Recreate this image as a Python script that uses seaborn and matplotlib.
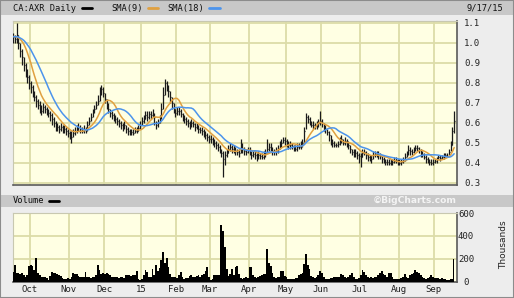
import numpy as np
import pandas as pd
import matplotlib
matplotlib.use("Agg")
import matplotlib.pyplot as plt
import seaborn as sns
from matplotlib.lines import Line2D
from matplotlib.patches import Rectangle

# ---------------- data ----------------
title = "CA:AXR Daily"
date_label = "9/17/15"
month_labels = ["Oct", "Nov", "Dec", "15", "Feb", "Mar", "Apr", "May", "Jun", "Jul", "Aug", "Sep"]
price_ticks = [0.3, 0.4, 0.5, 0.6, 0.7, 0.8, 0.9, 1.0, 1.1]
volume_ticks = [0, 200, 400, 600]

# closes before the visible window (only feed the moving averages)
close_prior = [1.02, 1.04, 1.03, 1.05, 1.02, 1.01, 1.03, 1.04, 1.02,
               1.03, 1.05, 1.04, 1.02, 1.03, 1.01, 1.03, 1.04]

close_sep14 = [1.03, 1.02, 1.04, 1.00, 0.96, 0.93, 0.89, 0.86, 0.83, 0.80]
high_sep14 = [1.05, 1.04, 1.10, 1.04, 1.00, 0.97, 0.93, 0.90, 0.87, 0.84]
low_sep14 = [1.00, 1.00, 1.00, 0.97, 0.93, 0.89, 0.86, 0.83, 0.80, 0.77]
vol_sep14 = [85, 145, 80, 75, 70, 75, 60, 45, 60, 140]

close_oct = [0.78, 0.75, 0.73, 0.71, 0.69, 0.68, 0.66, 0.68, 0.67, 0.66, 0.65, 0.64, 0.62, 0.60, 0.59, 0.58, 0.57, 0.58, 0.56, 0.57, 0.56, 0.55]
high_oct = [0.81, 0.79, 0.76, 0.74, 0.72, 0.71, 0.69, 0.70, 0.69, 0.68, 0.67, 0.66, 0.65, 0.63, 0.61, 0.60, 0.59, 0.60, 0.59, 0.59, 0.58, 0.57]
low_oct = [0.75, 0.73, 0.71, 0.68, 0.67, 0.65, 0.64, 0.65, 0.65, 0.64, 0.63, 0.61, 0.59, 0.58, 0.56, 0.56, 0.55, 0.56, 0.55, 0.55, 0.54, 0.53]
vol_oct = [145, 140, 100, 205, 80, 60, 45, 45, 40, 30, 15, 50, 85, 80, 75, 70, 60, 50, 30, 25, 25, 30]

close_nov = [0.54, 0.53, 0.55, 0.56, 0.57, 0.58, 0.57, 0.56, 0.57, 0.56, 0.59, 0.61, 0.63, 0.65, 0.67, 0.69, 0.71, 0.74, 0.77, 0.75]
high_nov = [0.56, 0.56, 0.57, 0.58, 0.59, 0.60, 0.59, 0.58, 0.59, 0.58, 0.61, 0.63, 0.65, 0.67, 0.69, 0.71, 0.74, 0.78, 0.79, 0.78]
low_nov = [0.52, 0.50, 0.53, 0.54, 0.55, 0.56, 0.55, 0.55, 0.55, 0.55, 0.56, 0.59, 0.61, 0.63, 0.65, 0.67, 0.69, 0.71, 0.74, 0.73]
vol_nov = [20, 45, 75, 70, 65, 50, 40, 45, 40, 85, 45, 40, 35, 40, 45, 60, 145, 100, 70, 75]

close_dec = [0.72, 0.69, 0.67, 0.65, 0.64, 0.63, 0.62, 0.61, 0.60, 0.59, 0.58, 0.59, 0.57, 0.56, 0.55, 0.555, 0.55, 0.56, 0.56, 0.575, 0.59]
high_dec = [0.75, 0.72, 0.70, 0.67, 0.66, 0.65, 0.64, 0.63, 0.62, 0.61, 0.60, 0.61, 0.59, 0.58, 0.57, 0.57, 0.57, 0.58, 0.58, 0.59, 0.61]
low_dec = [0.70, 0.67, 0.65, 0.63, 0.62, 0.61, 0.60, 0.59, 0.58, 0.57, 0.56, 0.57, 0.55, 0.54, 0.54, 0.54, 0.54, 0.55, 0.55, 0.56, 0.57]
vol_dec = [70, 75, 65, 55, 45, 40, 45, 40, 35, 40, 45, 30, 55, 60, 55, 50, 60, 55, 95, 20, 15]

close_jan = [0.61, 0.62, 0.64, 0.63, 0.645, 0.64, 0.65, 0.63, 0.59, 0.60, 0.62, 0.67, 0.74, 0.80, 0.78, 0.76, 0.73, 0.70, 0.67, 0.65]
high_jan = [0.63, 0.64, 0.66, 0.66, 0.66, 0.66, 0.67, 0.65, 0.61, 0.62, 0.64, 0.70, 0.78, 0.82, 0.81, 0.79, 0.76, 0.73, 0.70, 0.67]
low_jan = [0.59, 0.60, 0.62, 0.61, 0.62, 0.62, 0.63, 0.59, 0.57, 0.58, 0.60, 0.62, 0.67, 0.74, 0.76, 0.73, 0.70, 0.67, 0.65, 0.63]
vol_jan = [20, 60, 100, 85, 40, 45, 115, 60, 145, 90, 120, 190, 260, 160, 205, 130, 70, 45, 40, 45]

close_feb = [0.66, 0.66, 0.645, 0.63, 0.62, 0.61, 0.60, 0.59, 0.60, 0.595, 0.58, 0.585, 0.57, 0.565, 0.56, 0.55, 0.54, 0.53, 0.52]
high_feb = [0.68, 0.68, 0.67, 0.65, 0.64, 0.63, 0.62, 0.61, 0.62, 0.61, 0.60, 0.60, 0.59, 0.58, 0.58, 0.57, 0.56, 0.55, 0.54]
low_feb = [0.64, 0.64, 0.63, 0.61, 0.60, 0.59, 0.58, 0.57, 0.58, 0.58, 0.56, 0.57, 0.55, 0.55, 0.54, 0.53, 0.52, 0.51, 0.50]
vol_feb = [35, 60, 85, 40, 25, 30, 35, 50, 55, 40, 45, 50, 55, 45, 60, 70, 95, 130, 40]

close_mar = [0.52, 0.51, 0.50, 0.49, 0.48, 0.47, 0.45, 0.42, 0.44, 0.45, 0.47, 0.48, 0.47, 0.47, 0.46, 0.455, 0.45, 0.49, 0.47, 0.46, 0.455, 0.465]
high_mar = [0.54, 0.53, 0.52, 0.51, 0.50, 0.49, 0.47, 0.46, 0.46, 0.47, 0.49, 0.50, 0.49, 0.49, 0.48, 0.47, 0.47, 0.52, 0.50, 0.48, 0.47, 0.48]
low_mar = [0.50, 0.49, 0.48, 0.47, 0.46, 0.45, 0.43, 0.33, 0.39, 0.43, 0.45, 0.46, 0.45, 0.45, 0.44, 0.44, 0.43, 0.45, 0.45, 0.44, 0.44, 0.45]
vol_mar = [15, 25, 55, 60, 55, 60, 495, 440, 300, 115, 50, 70, 110, 60, 125, 140, 70, 30, 20, 30, 40, 35]

close_apr = [0.46, 0.44, 0.445, 0.44, 0.43, 0.44, 0.435, 0.43, 0.44, 0.45, 0.47, 0.48, 0.475, 0.46, 0.455, 0.46, 0.47, 0.49, 0.50, 0.515, 0.51]
high_apr = [0.48, 0.46, 0.46, 0.46, 0.45, 0.46, 0.45, 0.45, 0.46, 0.47, 0.52, 0.50, 0.50, 0.48, 0.47, 0.48, 0.49, 0.51, 0.52, 0.53, 0.53]
low_apr = [0.44, 0.42, 0.43, 0.42, 0.41, 0.42, 0.42, 0.42, 0.42, 0.43, 0.45, 0.46, 0.46, 0.44, 0.44, 0.44, 0.45, 0.47, 0.48, 0.50, 0.49]
vol_apr = [130, 125, 60, 40, 30, 45, 50, 55, 65, 70, 285, 165, 140, 80, 45, 35, 40, 45, 95, 90, 50]

close_may = [0.50, 0.49, 0.49, 0.485, 0.475, 0.47, 0.48, 0.48, 0.49, 0.50, 0.56, 0.63, 0.62, 0.605, 0.59, 0.59, 0.585, 0.59, 0.60, 0.61]
high_may = [0.52, 0.51, 0.51, 0.50, 0.49, 0.49, 0.50, 0.50, 0.51, 0.52, 0.58, 0.65, 0.64, 0.63, 0.61, 0.61, 0.60, 0.61, 0.62, 0.66]
low_may = [0.48, 0.47, 0.47, 0.47, 0.46, 0.46, 0.46, 0.47, 0.47, 0.48, 0.50, 0.57, 0.60, 0.59, 0.58, 0.57, 0.57, 0.57, 0.58, 0.59]
vol_may = [40, 25, 20, 20, 25, 30, 35, 60, 65, 75, 155, 240, 150, 110, 50, 40, 35, 45, 55, 95]

close_jun = [0.60, 0.58, 0.57, 0.555, 0.54, 0.51, 0.50, 0.49, 0.49, 0.495, 0.51, 0.52, 0.50, 0.51, 0.50, 0.49, 0.47, 0.455, 0.45, 0.45, 0.44, 0.435]
high_jun = [0.62, 0.60, 0.59, 0.57, 0.56, 0.54, 0.52, 0.51, 0.50, 0.51, 0.53, 0.54, 0.52, 0.53, 0.52, 0.51, 0.49, 0.47, 0.47, 0.47, 0.46, 0.45]
low_jun = [0.58, 0.56, 0.55, 0.54, 0.51, 0.49, 0.48, 0.48, 0.48, 0.48, 0.49, 0.50, 0.49, 0.49, 0.48, 0.47, 0.45, 0.44, 0.43, 0.43, 0.42, 0.40]
vol_jun = [80, 40, 20, 20, 25, 30, 35, 40, 45, 40, 45, 65, 60, 40, 35, 45, 60, 80, 40, 25, 20, 30]

close_jul = [0.43, 0.45, 0.455, 0.44, 0.43, 0.42, 0.42, 0.44, 0.445, 0.445, 0.44, 0.435, 0.42, 0.41, 0.405, 0.405, 0.40, 0.405, 0.405, 0.41, 0.415, 0.40]
high_jul = [0.45, 0.47, 0.47, 0.46, 0.45, 0.44, 0.44, 0.46, 0.46, 0.46, 0.46, 0.45, 0.44, 0.43, 0.42, 0.42, 0.42, 0.42, 0.42, 0.43, 0.43, 0.42]
low_jul = [0.38, 0.43, 0.44, 0.42, 0.41, 0.41, 0.40, 0.42, 0.43, 0.43, 0.42, 0.42, 0.40, 0.40, 0.39, 0.39, 0.39, 0.39, 0.39, 0.40, 0.40, 0.39]
vol_jul = [60, 100, 85, 60, 40, 35, 40, 35, 40, 45, 60, 80, 95, 70, 55, 40, 80, 75, 40, 25, 20, 25]

close_aug = [0.40, 0.405, 0.41, 0.43, 0.445, 0.465, 0.46, 0.455, 0.465, 0.475, 0.475, 0.465, 0.45, 0.445, 0.43, 0.42, 0.41, 0.405, 0.40, 0.405]
high_aug = [0.42, 0.42, 0.43, 0.45, 0.46, 0.49, 0.48, 0.47, 0.48, 0.49, 0.49, 0.48, 0.47, 0.46, 0.45, 0.44, 0.43, 0.42, 0.42, 0.42]
low_aug = [0.39, 0.39, 0.40, 0.41, 0.43, 0.44, 0.44, 0.44, 0.45, 0.46, 0.46, 0.45, 0.43, 0.43, 0.42, 0.40, 0.40, 0.39, 0.39, 0.39]
vol_aug = [25, 30, 45, 65, 40, 35, 55, 70, 80, 100, 85, 75, 60, 40, 35, 25, 30, 40, 55, 45]

close_sep15 = [0.41, 0.415, 0.43, 0.425, 0.43, 0.435, 0.44, 0.435, 0.455, 0.49, 0.56, 0.61]
high_sep15 = [0.42, 0.43, 0.44, 0.44, 0.44, 0.45, 0.45, 0.45, 0.47, 0.51, 0.58, 0.66]
low_sep15 = [0.40, 0.40, 0.42, 0.41, 0.42, 0.42, 0.43, 0.43, 0.44, 0.46, 0.49, 0.55]
vol_sep15 = [35, 30, 35, 25, 30, 25, 20, 15, 15, 20, 25, 195]

# ---------------- assemble ----------------
closes_by_month = [close_sep14, close_oct, close_nov, close_dec, close_jan, close_feb, close_mar,
                   close_apr, close_may, close_jun, close_jul, close_aug, close_sep15]
highs_by_month = [high_sep14, high_oct, high_nov, high_dec, high_jan, high_feb, high_mar,
                  high_apr, high_may, high_jun, high_jul, high_aug, high_sep15]
lows_by_month = [low_sep14, low_oct, low_nov, low_dec, low_jan, low_feb, low_mar,
                 low_apr, low_may, low_jun, low_jul, low_aug, low_sep15]
vols_by_month = [vol_sep14, vol_oct, vol_nov, vol_dec, vol_jan, vol_feb, vol_mar,
                 vol_apr, vol_may, vol_jun, vol_jul, vol_aug, vol_sep15]

close = np.concatenate(closes_by_month)
high = np.concatenate(highs_by_month)
low = np.concatenate(lows_by_month)
vol = np.concatenate(vols_by_month)
idx = np.arange(len(close))
lengths = [len(m) for m in closes_by_month]
month_starts = np.cumsum(lengths)[:-1]  # first trading day of Oct ... Sep

n_prior = len(close_prior)
all_close = pd.Series(np.concatenate([close_prior, close]))
sma9 = all_close.rolling(9, min_periods=1).mean().to_numpy()[n_prior:]
sma18 = all_close.rolling(18, min_periods=1).mean().to_numpy()[n_prior:]

df = pd.DataFrame({"day": idx, "close": close, "high": high, "low": low, "vol": vol,
                   "sma9": sma9, "sma18": sma18})

# ---------------- style ----------------
sns.set_style("white")
plt.rcParams["font.family"] = ["DejaVu Sans Mono", "DejaVu Sans"]

W, H = 514, 298
fig = plt.figure(figsize=(W / 100, H / 100), dpi=100, facecolor="#EDEDED")

def fx(px):
    return px / W

def fy(py):
    return 1 - py / H

PLOT_BG = "#FFFFE3"
GRID = "#DCDCA8"
ORANGE = "#E0A040"
BLUE = "#4C94EC"

# header bands
fig.patches.append(Rectangle((0, fy(15)), 1, 15 / H, transform=fig.transFigure,
                             facecolor="#C8C8C8", edgecolor="none", zorder=0))
fig.patches.append(Rectangle((0, fy(207)), 1, 12 / H, transform=fig.transFigure,
                             facecolor="#C8C8C8", edgecolor="none", zorder=0))
fig.patches.append(Rectangle((0, 0), 1, 1, transform=fig.transFigure,
                             facecolor="none", edgecolor="#8C8C8C", lw=1.5, zorder=5))

x_left, x_right = 13, 457
xmin, xmax = -0.1, 251.6

ax = fig.add_axes([fx(x_left), fy(185), fx(x_right - x_left), (185 - 20.7) / H])
axv = fig.add_axes([fx(x_left), fy(282), fx(x_right - x_left), (282 - 212.7) / H])

for a in (ax, axv):
    a.set_facecolor(PLOT_BG)
    a.set_xlim(xmin, xmax)
    a.set_xticks(month_starts - 0.5)
    a.grid(True, color=GRID, lw=1.3, zorder=0)
    a.set_axisbelow(True)
    a.yaxis.tick_right()
    a.tick_params(length=0, labelsize=6.5, colors="#222222")
    for s in ("left", "top"):
        a.spines[s].set_color("#C8C8B0")
        a.spines[s].set_linewidth(0.8)
    for s in ("right", "bottom"):
        a.spines[s].set_color("#5A5A5A")
        a.spines[s].set_linewidth(1.2)

# ---------------- price panel ----------------
ax.set_ylim(0.2885, 1.11)
ax.set_yticks(price_ticks)
ax.set_yticklabels([f"{t:.1f}" for t in price_ticks])
ax.tick_params(axis="y", pad=5)
ax.set_xticklabels([])

ax.vlines(df["day"], df["low"], df["high"], color="#1A1A1A", lw=0.9, zorder=3)
ax.hlines(df["close"], df["day"], df["day"] + 0.5, color="#1A1A1A", lw=0.9, zorder=3)
sns.lineplot(data=df, x="day", y="sma9", ax=ax, color=ORANGE, lw=1.1, zorder=4, legend=False)
sns.lineplot(data=df, x="day", y="sma18", ax=ax, color=BLUE, lw=1.1, zorder=4, legend=False)
ax.set_xlabel("")
ax.set_ylabel("")

# ---------------- volume panel ----------------
axv.set_ylim(-3, 603)
axv.set_yticks(volume_ticks)
axv.set_yticklabels([str(t) for t in volume_ticks])
for lab in axv.get_yticklabels():
    lab.set_horizontalalignment("center")
axv.tick_params(axis="y", pad=6.5)
axv.set_xticklabels(month_labels)
axv.tick_params(axis="x", pad=2)
axv.fill_between(df["day"], 0, df["vol"], step="mid", color="#000000", lw=0, zorder=3)
axv.set_xlabel("")
axv.set_ylabel("")

# ---------------- header texts ----------------
fs = 6.3
fig.text(fx(13), fy(8.3), title, fontsize=fs, va="center", ha="left", color="#111111")
fig.add_artist(Line2D([fx(82), fx(92)], [fy(8), fy(8)], color="#000000", lw=2))
fig.text(fx(111), fy(8.3), "SMA(9)", fontsize=fs, va="center", ha="left", color="#111111")
fig.add_artist(Line2D([fx(148), fx(158)], [fy(8), fy(8)], color=ORANGE, lw=2))
fig.text(fx(167), fy(8.3), "SMA(18)", fontsize=fs, va="center", ha="left", color="#111111")
fig.add_artist(Line2D([fx(209), fx(220)], [fy(8), fy(8)], color=BLUE, lw=2))
fig.text(fx(503), fy(8.3), date_label, fontsize=fs, va="center", ha="right", color="#111111")

fig.text(fx(13), fy(200.5), "Volume", fontsize=fs, va="center", ha="left", color="#111111")
fig.add_artist(Line2D([fx(49), fx(59)], [fy(200.5), fy(200.5)], color="#000000", lw=2))
fig.text(fx(457), fy(200.8), "\u00a9BigCharts.com", fontsize=6.6, va="center", ha="right",
         color="#F4F4F4", fontweight="bold", family=["DejaVu Sans"])
fig.text(fx(504), fy(245), "Thousands", fontsize=6.5, va="center", ha="center",
         rotation=90, color="#222222", family=["DejaVu Sans"])

fig.savefig("out.png", dpi=100, facecolor=fig.get_facecolor())
